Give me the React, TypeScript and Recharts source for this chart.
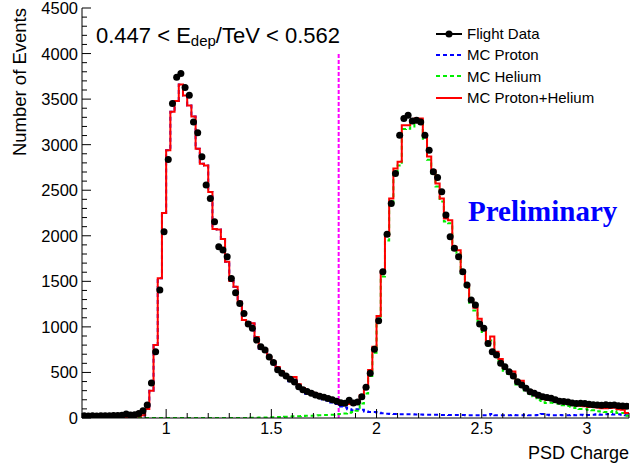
import { ComposedChart, Legend, Line, ReferenceLine, Scatter, XAxis, YAxis } from "recharts";

// histogram binning: 130 bins of 0.02 from 0.6 to 3.2
const binLow = 0.6;
const binWidth = 0.02;
const xMin = 0.6;
const xMax = 3.2;
const yMax = 4500;

const flightData = [
  25, 22, 24, 22, 25, 24, 26, 28, 27, 30,
  45, 32, 35, 50, 80, 143, 384, 727, 1404, 2044,
  2838, 3452, 3740, 3781, 3628, 3543, 3250, 3130, 2867, 2556,
  2410, 2154, 1879, 1843, 1770, 1532, 1375, 1258, 1148, 1031,
  984, 856, 782, 746, 670, 610, 530, 490, 460, 424,
  395, 344, 310, 290, 271, 252, 240, 227, 215, 200,
  185, 168, 161, 195, 165, 175, 234, 337, 490, 754,
  1068, 1605, 2018, 2355, 2684, 3104, 3288, 3324, 3261, 3269,
  3250, 3104, 2940, 2702, 2640, 2483, 2227, 1989, 1862, 1770,
  1605, 1459, 1295, 1240, 1031, 984, 819, 727, 691, 600,
  563, 508, 460, 398, 362, 326, 289, 271, 250, 234,
  225, 216, 200, 185, 180, 175, 165, 160, 162, 158,
  150, 145, 143, 140, 145, 140, 143, 135, 132, 130,
];

const mcProton = [
  8, 8, 8, 8, 8, 8, 9, 9, 10, 10,
  10, 12, 15, 20, 30, 100, 300, 800, 1535, 2250,
  2940, 3360, 3480, 3660, 3540, 3430, 3310, 2955, 2790, 2770,
  2480, 2075, 2070, 1965, 1715, 1505, 1440, 1275, 1075, 1050,
  1037, 886, 760, 750, 664, 612, 550, 498, 456, 404,
  432, 350, 308, 266, 259, 237, 220, 203, 191, 169,
  155, 125, 115, 97, 85, 95, 90, 72, 67, 65,
  58, 52, 48, 45, 44, 42, 42, 40, 40, 38,
  38, 36, 36, 35, 35, 34, 34, 33, 33, 32,
  32, 31, 31, 30, 30, 30, 30, 45, 30, 30,
  30, 30, 32, 30, 30, 35, 30, 30, 32, 45,
  35, 30, 30, 32, 30, 30, 32, 30, 35, 30,
  32, 35, 40, 35, 40, 45, 38, 40, 35, 30,
];

const mcHelium = [
  0, 0, 0, 0, 0, 0, 0, 0, 0, 0,
  0, 0, 0, 0, 0, 0, 0, 0, 0, 0,
  0, 0, 0, 0, 0, 0, 0, 0, 0, 0,
  0, 0, 0, 0, 0, 0, 0, 0, 0, 0,
  3, 4, 5, 5, 6, 8, 10, 12, 14, 16,
  18, 20, 22, 24, 26, 28, 30, 32, 34, 36,
  40, 45, 50, 58, 65, 80, 160, 268, 460, 717,
  1061, 1553, 1949, 2365, 2695, 2770, 3172, 3174, 3200, 3250,
  3250, 3064, 2834, 2685, 2540, 2376, 2156, 2137, 1847, 1808,
  1588, 1429, 1264, 1180, 1060, 945, 795, 850, 697, 617,
  518, 485, 478, 368, 379, 302, 270, 240, 198, 174,
  165, 167, 165, 156, 140, 131, 123, 110, 100, 100,
  90, 85, 75, 71, 66, 65, 77, 55, 55, 25,
];

const mcSum = [
  8, 8, 8, 8, 8, 8, 9, 9, 10, 10,
  10, 12, 15, 20, 30, 100, 300, 800, 1535, 2250,
  2940, 3360, 3480, 3660, 3540, 3430, 3310, 2955, 2790, 2770,
  2480, 2075, 2070, 1965, 1715, 1505, 1440, 1275, 1075, 1050,
  1040, 890, 765, 755, 670, 620, 560, 510, 470, 420,
  450, 370, 330, 290, 285, 265, 250, 235, 225, 205,
  195, 170, 165, 155, 150, 175, 250, 340, 527, 782,
  1119, 1605, 1997, 2410, 2739, 2812, 3214, 3214, 3240, 3288,
  3288, 3100, 2870, 2720, 2575, 2410, 2190, 2170, 1880, 1840,
  1620, 1460, 1295, 1210, 1090, 975, 825, 895, 727, 647,
  548, 515, 510, 398, 409, 337, 300, 270, 230, 219,
  200, 197, 195, 188, 170, 161, 155, 140, 135, 130,
  122, 120, 115, 106, 106, 110, 115, 95, 90, 55,
];

const xMajorTicks = [1, 1.5, 2, 2.5, 3];
const yMajorTicks = [0, 500, 1000, 1500, 2000, 2500, 3000, 3500, 4000, 4500];
const xMinorTicks = Array.from({ length: 27 }, (_, k) => Math.round((xMin + 0.1 * k) * 10) / 10);
const yMinorTicks = Array.from({ length: 46 }, (_, k) => k * 100);

const cutValue = 1.82;
const cutTop = 4000;

const legendItems = [
  { label: "Flight Data", color: "#000000", kind: "marker" },
  { label: "MC Proton", color: "#0000ff", kind: "dash" },
  { label: "MC Helium", color: "#00ee00", kind: "dash" },
  { label: "MC Proton+Helium", color: "#ff0000", kind: "solid" },
];

// step histograms: one row per low bin edge, plus the closing edge
const histRows = mcSum.map((v, i) => ({
  x: Math.round((binLow + i * binWidth) * 100) / 100,
  proton: mcProton[i],
  helium: mcHelium[i],
  sum: v,
}));
histRows.push({
  x: xMax,
  proton: mcProton[mcProton.length - 1],
  helium: mcHelium[mcHelium.length - 1],
  sum: mcSum[mcSum.length - 1],
});

const pointRows = flightData.map((v, i) => ({
  x: Math.round((binLow + (i + 0.5) * binWidth) * 1000) / 1000,
  n: v,
}));

const FONT = '"Liberation Sans", Arial, sans-serif';
const isMajor = (v: number, majors: number[]) => majors.some((m) => Math.abs(m - v) < 1e-6);

function BottomTick({ x, y, payload }: any) {
  const major = isMajor(payload.value, xMajorTicks);
  return (
    <g>
      <line x1={x} y1={y} x2={x} y2={y - (major ? 9 : 5)} stroke="#000" />
      {major && (
        <text x={x} y={y + 16} textAnchor="middle" fontSize={16} fontFamily={FONT} fill="#000">
          {String(payload.value)}
        </text>
      )}
    </g>
  );
}

function TopTick({ x, y, payload }: any) {
  const major = isMajor(payload.value, xMajorTicks);
  return <line x1={x} y1={y} x2={x} y2={y + (major ? 9 : 5)} stroke="#000" />;
}

function LeftTick({ x, y, payload }: any) {
  const major = isMajor(payload.value, yMajorTicks);
  return (
    <g>
      <line x1={x} y1={y} x2={x + (major ? 9 : 5)} y2={y} stroke="#000" />
      {major && (
        <text x={x - 4} y={y + 6} textAnchor="end" fontSize={16.5} fontFamily={FONT} fill="#000">
          {String(payload.value)}
        </text>
      )}
    </g>
  );
}

function RightTick({ x, y, payload }: any) {
  const major = isMajor(payload.value, yMajorTicks);
  return <line x1={x} y1={y} x2={x - (major ? 9 : 5)} y2={y} stroke="#000" />;
}

function LegendBox() {
  return (
    <div style={{ fontFamily: FONT, fontSize: 15, color: "#000" }}>
      {legendItems.map((item) => (
        <div key={item.label} style={{ display: "flex", alignItems: "center", height: 21.3 }}>
          <svg width={30} height={12} style={{ flex: "none" }}>
            <line
              x1={2}
              y1={6}
              x2={28}
              y2={6}
              stroke={item.color}
              strokeWidth={2}
              strokeDasharray={item.kind === "dash" ? "4 3" : undefined}
            />
            {item.kind === "marker" && <circle cx={15} cy={6} r={3.5} fill={item.color} />}
          </svg>
          <span style={{ marginLeft: 3, whiteSpace: "nowrap" }}>{item.label}</span>
        </div>
      ))}
    </div>
  );
}

export default function App() {
  return (
    <div style={{ position: "absolute", left: 0, top: 0, width: 630, height: 468, background: "#fff" }}>
      <ComposedChart width={630} height={468} margin={{ top: 8, right: 1, bottom: 20, left: 0 }}>
        <XAxis
          dataKey="x"
          type="number"
          domain={[xMin, xMax]}
          allowDataOverflow
          ticks={xMinorTicks}
          interval={0}
          tickSize={0}
          tickMargin={0}
          height={30}
          tick={(p: any) => <BottomTick {...p} />}
          axisLine={{ stroke: "#000" }}
        />
        <XAxis
          xAxisId="top"
          orientation="top"
          dataKey="x"
          type="number"
          domain={[xMin, xMax]}
          allowDataOverflow
          ticks={xMinorTicks}
          interval={0}
          tickSize={0}
          tickMargin={0}
          height={0}
          tick={(p: any) => <TopTick {...p} />}
          axisLine={{ stroke: "#000" }}
        />
        <YAxis
          type="number"
          domain={[0, yMax]}
          allowDataOverflow
          ticks={yMinorTicks}
          interval={0}
          tickSize={0}
          tickMargin={0}
          width={82}
          tick={(p: any) => <LeftTick {...p} />}
          axisLine={{ stroke: "#000" }}
        />
        <YAxis
          yAxisId="right"
          orientation="right"
          type="number"
          domain={[0, yMax]}
          allowDataOverflow
          ticks={yMinorTicks}
          interval={0}
          tickSize={0}
          tickMargin={0}
          width={0}
          tick={(p: any) => <RightTick {...p} />}
          axisLine={{ stroke: "#000" }}
        />
        <ReferenceLine
          segment={[
            { x: cutValue, y: 0 },
            { x: cutValue, y: cutTop },
          ]}
          stroke="#ff00ff"
          strokeWidth={2}
          strokeDasharray="4 2"
        />
        <Line
          data={histRows}
          dataKey="proton"
          type="stepAfter"
          stroke="#0000ff"
          strokeWidth={2}
          strokeDasharray="4 3"
          dot={false}
          isAnimationActive={false}
        />
        <Line
          data={histRows}
          dataKey="helium"
          type="stepAfter"
          stroke="#00ee00"
          strokeWidth={2}
          strokeDasharray="4 3"
          dot={false}
          isAnimationActive={false}
        />
        <Line
          data={histRows}
          dataKey="sum"
          type="stepAfter"
          stroke="#ff0000"
          strokeWidth={2}
          dot={false}
          isAnimationActive={false}
        />
        <Scatter
          data={pointRows}
          dataKey="n"
          fill="#000"
          shape={(p: any) => <circle cx={p.cx} cy={p.cy} r={3.5} fill="#000" />}
          isAnimationActive={false}
        />
        <Legend
          layout="vertical"
          align="center"
          verticalAlign="middle"
          wrapperStyle={{ left: 434, top: 23, width: 200 }}
          content={() => <LegendBox />}
        />
      </ComposedChart>
      <svg
        width={630}
        height={468}
        style={{ position: "absolute", left: 0, top: 0, pointerEvents: "none" }}
      >
        <text x={96} y={43} fontSize={22} fontFamily={FONT} fill="#000">
          0.447 &lt; E
          <tspan fontSize={15} dy={3}>
            dep
          </tspan>
          <tspan dy={-3}>/TeV &lt; 0.562</tspan>
        </text>
        <text
          x={468}
          y={221}
          fontSize={29}
          fontWeight="bold"
          fontFamily='"Liberation Serif", "Times New Roman", serif'
          fill="#0000ff"
        >
          Preliminary
        </text>
        <text x={629} y={459} textAnchor="end" fontSize={18} fontFamily={FONT} fill="#000">
          PSD Charge
        </text>
        <text
          transform="translate(26,8) rotate(-90)"
          textAnchor="end"
          fontSize={18.5}
          fontFamily={FONT}
          fill="#000"
        >
          Number of Events
        </text>
      </svg>
    </div>
  );
}
